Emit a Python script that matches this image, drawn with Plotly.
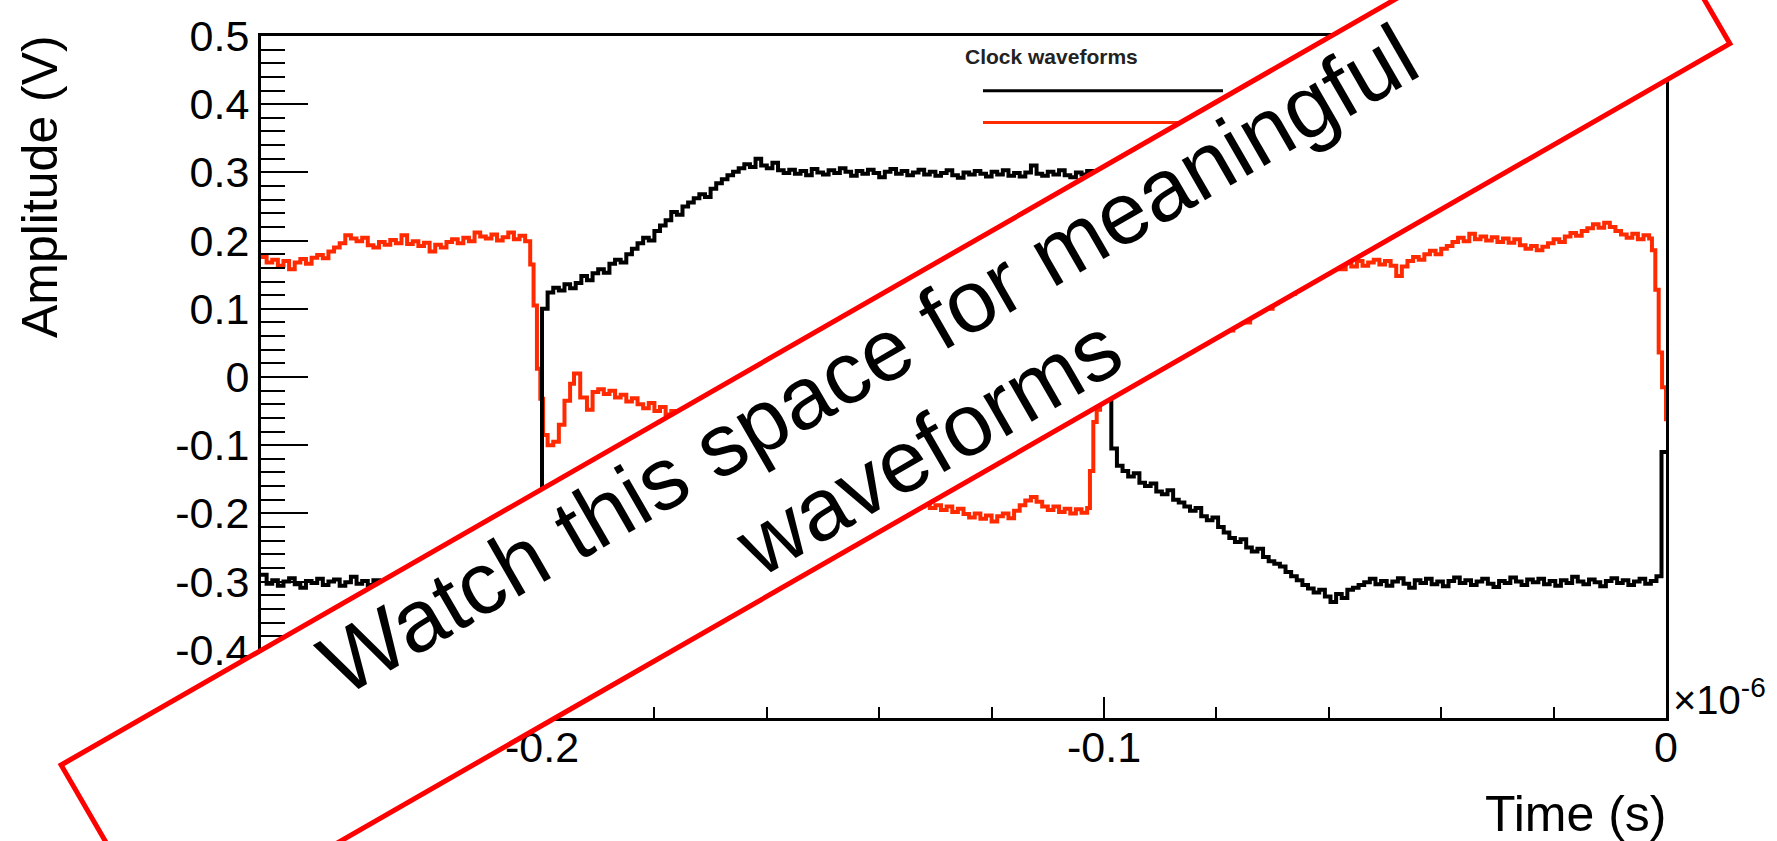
import math
import plotly.graph_objects as go

# ---------------- data (time in units of 1e-6 s, amplitude in V) ----------------
# Waveforms are stored as segments: a start time, a sample step and the sampled values.
STEP = 0.001

# black clock waveform
black_seg1_t0 = -0.250
black_seg1 = [-0.290, -0.303, -0.298, -0.306, -0.300, -0.295, -0.304, -0.309, -0.299, -0.302,
              -0.296, -0.305, -0.300, -0.297, -0.306, -0.301, -0.293, -0.303, -0.299, -0.305,
              -0.298, -0.302, -0.308, -0.300, -0.296, -0.304, -0.299, -0.303, -0.297, -0.306,
              -0.301, -0.295, -0.303, -0.299, -0.307, -0.300, -0.296, -0.304, -0.301, -0.298,
              -0.305, -0.300, -0.294, -0.303, -0.299, -0.306, -0.300, -0.297, -0.303, -0.300]
black_seg2_t0 = -0.200
black_seg2 = [0.100, 0.124, 0.131, 0.127, 0.136, 0.130, 0.138, 0.148, 0.142, 0.152,
              0.158, 0.153, 0.166, 0.172, 0.168, 0.180, 0.188, 0.196, 0.204, 0.200,
              0.214, 0.222, 0.230, 0.242, 0.238, 0.250, 0.256, 0.262, 0.268, 0.264,
              0.276, 0.284, 0.290, 0.296, 0.301, 0.306, 0.312, 0.308, 0.320, 0.310,
              0.306, 0.314, 0.303, 0.299,
              0.304, 0.298, 0.302, 0.296, 0.305, 0.300, 0.297, 0.303, 0.299, 0.306,
              0.301, 0.295, 0.302, 0.298, 0.304, 0.299, 0.293, 0.301, 0.305, 0.298,
              0.302, 0.296, 0.300, 0.304, 0.297, 0.301, 0.295, 0.299, 0.303, 0.296,
              0.292, 0.300, 0.297, 0.302, 0.298, 0.294, 0.301, 0.297, 0.303, 0.295,
              0.299, 0.294, 0.300, 0.310, 0.298, 0.295, 0.301, 0.297, 0.303, 0.296,
              0.293, 0.300, 0.297, 0.302, 0.295, 0.299, 0.297]
black_seg3_t0 = -0.0987
black_seg3 = [-0.105, -0.130, -0.138, -0.146, -0.141, -0.155, -0.160, -0.156, -0.168, -0.172,
              -0.166, -0.180, -0.184, -0.190, -0.196, -0.192, -0.204, -0.210, -0.206, -0.220,
              -0.228, -0.236, -0.242, -0.238, -0.250, -0.256, -0.252, -0.264, -0.270, -0.274,
              -0.278, -0.286, -0.292, -0.298, -0.305, -0.310, -0.316, -0.312, -0.322, -0.330,
              -0.318, -0.324, -0.312, -0.309, -0.305,
              -0.301, -0.296, -0.304, -0.299, -0.306, -0.300, -0.295, -0.303, -0.309, -0.298,
              -0.302, -0.296, -0.304, -0.300, -0.307, -0.299, -0.294, -0.302, -0.298, -0.305,
              -0.300, -0.296, -0.303, -0.308, -0.299, -0.302, -0.294, -0.300, -0.305, -0.297,
              -0.301, -0.296, -0.304, -0.299, -0.306, -0.298, -0.302, -0.293, -0.300, -0.304,
              -0.297, -0.301, -0.307, -0.299, -0.295, -0.302, -0.298, -0.305, -0.300, -0.296,
              -0.303, -0.299, -0.292]
black_end_t = [-0.0008, 0.0]
black_end_v = [-0.110, -0.110]

# red clock waveform
red_seg1_t0 = -0.250
red_seg1 = [0.176, 0.168, 0.172, 0.163, 0.170, 0.158, 0.168, 0.173, 0.166, 0.175,
            0.179, 0.174, 0.184, 0.190, 0.196, 0.208, 0.203, 0.199, 0.204, 0.193,
            0.190, 0.198, 0.194, 0.201, 0.196, 0.208, 0.195, 0.199, 0.192, 0.197,
            0.184, 0.194, 0.190, 0.198, 0.202, 0.196, 0.204, 0.199, 0.212, 0.206,
            0.203, 0.209, 0.200, 0.205, 0.212, 0.202, 0.207, 0.199]
red_edge1_t = [-0.2021, -0.2015, -0.2009, -0.2003, -0.1998, -0.1990, -0.1980, -0.1970, -0.1960,
               -0.1950, -0.1943, -0.1932, -0.1920, -0.1910]
red_edge1_v = [0.165, 0.105, 0.012, -0.032, -0.085, -0.100, -0.095, -0.070, -0.035,
               -0.010, 0.005, -0.030, -0.048, -0.022]
red_seg2_t0 = -0.190
red_seg2 = [-0.018, -0.025, -0.020, -0.030, -0.026, -0.036, -0.031, -0.040, -0.046, -0.038,
            -0.050, -0.044, -0.055, -0.050, -0.060]
red_mid_t = [-0.1740, -0.1700, -0.1660, -0.1620, -0.1580, -0.1540, -0.1500, -0.1460, -0.1420,
             -0.1380]
red_mid_v = [-0.068, -0.082, -0.097, -0.112, -0.127, -0.142, -0.156, -0.168, -0.177, -0.184]
red_seg3_t0 = -0.134
red_seg3 = [-0.186, -0.190, -0.184, -0.192, -0.188, -0.195, -0.190, -0.198, -0.193, -0.201,
            -0.206, -0.200, -0.208, -0.203, -0.212, -0.204, -0.200, -0.207, -0.196, -0.188,
            -0.181, -0.176, -0.183, -0.190, -0.195, -0.190, -0.198, -0.193, -0.200, -0.194,
            -0.199, -0.192]
red_edge2_t = [-0.1025, -0.1019, -0.1013, -0.1007, -0.1000, -0.0990, -0.0980, -0.0970, -0.0960,
               -0.0950, -0.0940, -0.0930, -0.0920, -0.0900, -0.0880, -0.0860, -0.0840]
red_edge2_v = [-0.138, -0.066, -0.048, 0.040, 0.100, 0.085, 0.055, 0.030, 0.012,
               0.002, 0.015, 0.030, 0.036, 0.040, 0.046, 0.050, 0.056]
red_seg4_t0 = -0.082
red_seg4 = [0.060, 0.066, 0.062, 0.072, 0.068, 0.078, 0.084, 0.080, 0.092, 0.098,
            0.104, 0.100, 0.114, 0.120, 0.126, 0.122, 0.134, 0.140, 0.146, 0.150,
            0.156, 0.152, 0.160, 0.165, 0.158, 0.167, 0.162, 0.170, 0.163, 0.168,
            0.172, 0.165, 0.170, 0.163, 0.148, 0.162, 0.170, 0.176, 0.172, 0.180,
            0.185, 0.180, 0.188, 0.192, 0.198, 0.204, 0.199, 0.210, 0.202, 0.206,
            0.200, 0.205, 0.198, 0.203, 0.197, 0.202, 0.193, 0.188, 0.192, 0.186,
            0.191, 0.196, 0.202, 0.198, 0.206, 0.211, 0.207, 0.214, 0.218, 0.224,
            0.219, 0.226, 0.220, 0.214, 0.209, 0.204, 0.210, 0.202, 0.208, 0.203]
red_end_t = [-0.0025, -0.0019, -0.0013, -0.0007, 0.0]
red_end_v = [0.186, 0.128, 0.036, -0.015, -0.065]

x_tickvals = [-0.2, -0.1, 0.0]
x_ticktext = ["-0.2", "-0.1", "0"]
y_tickvals = [-0.5, -0.4, -0.3, -0.2, -0.1, 0.0, 0.1, 0.2, 0.3, 0.4, 0.5]
y_ticktext = ["-0.5", "-0.4", "-0.3", "-0.2", "-0.1", "0", "0.1", "0.2", "0.3", "0.4", "0.5"]

legend_header = "Clock waveforms"
banner_line1 = "Watch this space for meaningful"
banner_line2 = "waveforms"


def sampled(t0, values, step=STEP):
    return [round(t0 + i * step, 5) for i in range(len(values))], list(values)


def join(*parts):
    ts, vs = [], []
    for t, v in parts:
        ts += list(t)
        vs += list(v)
    return ts, vs


black_t, black_v = join(sampled(black_seg1_t0, black_seg1),
                        sampled(black_seg2_t0, black_seg2),
                        sampled(black_seg3_t0, black_seg3),
                        (black_end_t, black_end_v))
red_t, red_v = join(sampled(red_seg1_t0, red_seg1),
                    (red_edge1_t, red_edge1_v),
                    sampled(red_seg2_t0, red_seg2),
                    (red_mid_t, red_mid_v),
                    sampled(red_seg3_t0, red_seg3),
                    (red_edge2_t, red_edge2_v),
                    sampled(red_seg4_t0, red_seg4),
                    (red_end_t, red_end_v))

# ---------------- layout geometry (pixels) ----------------
WIDTH, HEIGHT = 1777, 841
ML, MR, MT, MB = 261, 111, 32, 123
PW = WIDTH - ML - MR
PH = HEIGHT - MT - MB


def paper(px, py):
    return ((px - ML) / PW, (HEIGHT - MB - py) / PH)


BLACK = "#000000"
RED = "#ff2a00"
BANNER_RED = "#ff0000"
FONT = "Liberation Sans"

fig = go.Figure()
fig.add_trace(go.Scatter(x=red_t, y=red_v, mode="lines", name="clock 2",
                         line=dict(color=RED, width=4, shape="hv"), showlegend=False))
fig.add_trace(go.Scatter(x=black_t, y=black_v, mode="lines", name="clock 1",
                         line=dict(color=BLACK, width=4, shape="hv"), showlegend=False))

axis_common = dict(showline=True, linecolor="black", linewidth=3, mirror=True,
                   ticks="inside", tickcolor="black", tickwidth=2,
                   showgrid=False, zeroline=False, tickmode="array",
                   tickfont=dict(family=FONT, size=43, color="black"))

fig.update_xaxes(range=[-0.25, 0.0], tickvals=x_tickvals, ticktext=x_ticktext, ticklen=21,
                 ticklabelstandoff=-11,
                 minor=dict(ticks="inside", ticklen=11, tickwidth=2, tickcolor="black",
                            dtick=0.02, tick0=0, showgrid=False),
                 **axis_common)
fig.update_yaxes(range=[-0.5, 0.5], tickvals=y_tickvals, ticktext=y_ticktext, ticklen=47,
                 minor=dict(ticks="inside", ticklen=24, tickwidth=2, tickcolor="black",
                            dtick=0.02, tick0=0, showgrid=False),
                 **axis_common)

shapes = []
# legend lines
for py, col in [(87, BLACK), (119, RED)]:
    x0, y0 = paper(983, py)
    x1, y1 = paper(1223, py)
    shapes.append(dict(type="line", xref="paper", yref="paper", x0=x0, y0=y0, x1=x1, y1=y1,
                       line=dict(color=col, width=3), layer="above"))

# banner rectangle
cx, cy = 895.5, 402.5
blen, bwid = 1808, 206
ang = math.radians(30)
tx, ty = math.cos(ang), -math.sin(ang)
nx, ny = math.sin(ang), math.cos(ang)
corners = []
for a, b in [(-1, -1), (1, -1), (1, 1), (-1, 1)]:
    px = cx + a * blen / 2 * tx + b * bwid / 2 * nx
    py = cy + a * blen / 2 * ty + b * bwid / 2 * ny
    corners.append(paper(px, py))
path = "M " + " L ".join(f"{x:.5f},{y:.5f}" for x, y in corners) + " Z"
shapes.append(dict(type="path", xref="paper", yref="paper", path=path,
                   fillcolor="white", line=dict(color=BANNER_RED, width=5), layer="above"))

annotations = []


def add_text(text, px, py, size, xanchor="center", yanchor="middle", angle=0, color="black",
             family=FONT, weight="normal"):
    x, y = paper(px, py)
    annotations.append(dict(text=text, x=x, y=y, xref="paper", yref="paper", showarrow=False,
                            xanchor=xanchor, yanchor=yanchor, textangle=angle,
                            font=dict(family=family, size=size, color=color, weight=weight)))


def banner_pos(t, n):
    return (t * tx + n * nx, t * ty + n * ny)


p1 = banner_pos(573, 744)
p2 = banner_pos(581, 849)
add_text(banner_line1, p1[0], p1[1], 88, angle=-30)
add_text(banner_line2, p2[0], p2[1], 88, angle=-30)

add_text("Amplitude (V)", 40, 184, 50, angle=-90)
add_text("Time (s)", 1668, 815, 50, xanchor="right")
add_text("×10<sup>-6</sup>", 1671, 724, 40, xanchor="left", yanchor="bottom")
add_text(legend_header, 963, 53, 21, xanchor="left", color="#222222", weight="bold")

fig.update_layout(width=WIDTH, height=HEIGHT,
                  margin=dict(l=ML, r=MR, t=MT, b=MB, pad=0),
                  paper_bgcolor="white", plot_bgcolor="white",
                  shapes=shapes, annotations=annotations, showlegend=False)

fig.write_html("out.html", config={"displayModeBar": False},
               post_script="document.body.style.margin='0';document.body.style.overflow='hidden';")
